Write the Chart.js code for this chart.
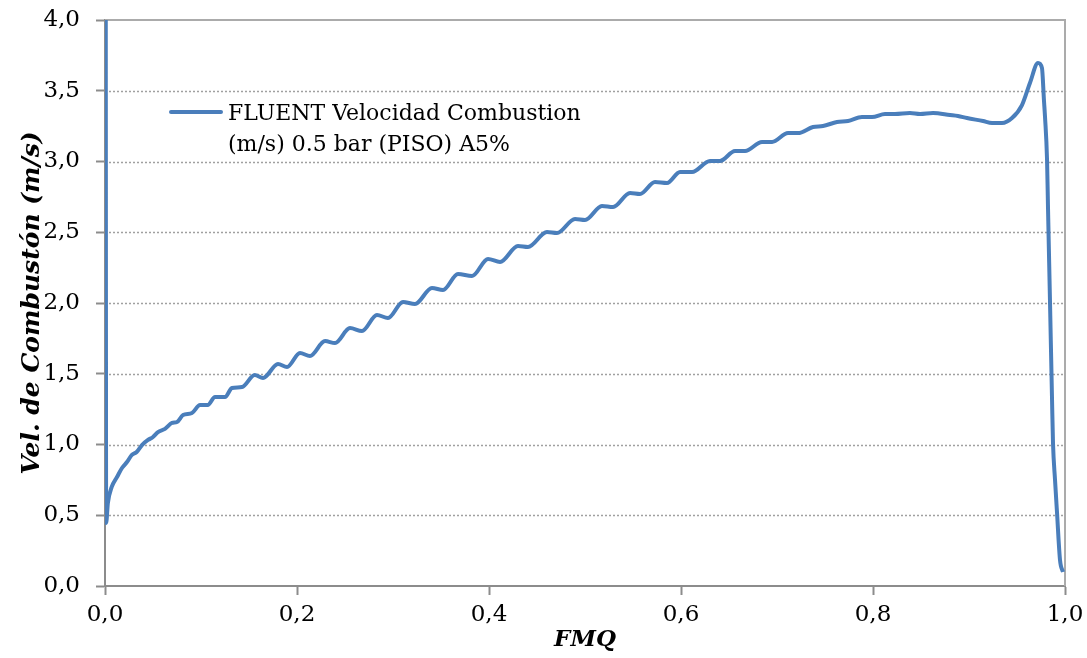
<!DOCTYPE html>
<html>
<head>
<meta charset="utf-8">
<script src="https://cdn.jsdelivr.net/npm/chart.js@4/dist/chart.umd.min.js"></script>
<style>
  html, body { margin: 0; padding: 0; background: #fff; }
  #wrap { width: 1087px; height: 658px; position: relative; }
</style>
</head>
<body>
<div id="wrap"><canvas id="lineChart" width="1087" height="658"></canvas></div>
<script>
// valores
const seriesLabel = ['FLUENT Velocidad Combustion', '(m/s) 0.5 bar (PISO) A5%']
const fmq = [
    0.0008, 0.0012, 0.003, 0.007, 0.0125, 0.0177, 0.0229, 0.028, 0.033, 0.0385,
    0.0448, 0.05, 0.0552, 0.0625, 0.0698, 0.075, 0.0813, 0.0906, 0.099, 0.107,
    0.1146, 0.125, 0.1323, 0.1427, 0.156, 0.1646, 0.1802, 0.1896, 0.2031, 0.2135,
    0.2292, 0.2396, 0.2552, 0.2677, 0.2833, 0.2948, 0.3104, 0.3229, 0.3406, 0.3521,
    0.3677, 0.3823, 0.399, 0.4115, 0.4302, 0.4406, 0.4604, 0.4708, 0.4896, 0.5,
    0.5177, 0.5292, 0.5469, 0.5573, 0.5729, 0.5854, 0.599, 0.6115, 0.6302, 0.6406,
    0.6563, 0.6667, 0.6844, 0.6948, 0.7115, 0.7219, 0.7375, 0.7479, 0.7625, 0.774,
    0.7885, 0.799, 0.8125, 0.8229, 0.8385, 0.849, 0.8625, 0.8802, 0.8885, 0.8979,
    0.9146, 0.924, 0.9344, 0.9448, 0.9552, 0.9635, 0.9719, 0.976, 0.9781, 0.9792,
    0.9813, 0.9823, 0.9844, 0.9865, 0.9875, 0.9896, 0.9917, 0.9948, 0.9979
]
const velocidad = [
    4.0, 0.445, 0.587, 0.70, 0.77, 0.834, 0.876, 0.926, 0.947, 0.996,
    1.032, 1.053, 1.088, 1.11, 1.152, 1.159, 1.208, 1.223, 1.279, 1.279,
    1.336, 1.336, 1.399, 1.406, 1.491, 1.47, 1.569, 1.548, 1.647, 1.625,
    1.731, 1.717, 1.823, 1.802, 1.915, 1.894, 2.007, 1.993, 2.106, 2.092,
    2.205, 2.191, 2.311, 2.29, 2.403, 2.396, 2.502, 2.495, 2.594, 2.587,
    2.686, 2.678, 2.777, 2.770, 2.855, 2.848, 2.926, 2.926, 3.004, 3.004,
    3.074, 3.074, 3.138, 3.138, 3.201, 3.201, 3.244, 3.251, 3.279, 3.286,
    3.314, 3.314, 3.336, 3.336, 3.343, 3.336, 3.343, 3.329, 3.322, 3.307,
    3.286, 3.272, 3.272, 3.307, 3.399, 3.555, 3.696, 3.661, 3.43, 3.314,
    3.011, 2.671, 2.0, 1.314, 1.011, 0.75, 0.516, 0.184, 0.099
]
const xTicks = [0, 0.2, 0.4, 0.6, 0.8, 1.0]
const yTicks = [0, 0.5, 1.0, 1.5, 2.0, 2.5, 3.0, 3.5, 4.0]

const azul = '#4a7ebb'
const gris = '#8c8c8c'
const fuente = "'DejaVu Serif', serif"

const puntos = fmq.map((x, i) => ({ x: x, y: velocidad[i] }))
const coma = v => Number(v).toFixed(1).replace('.', ',')

// rejilla punteada, borde superior/derecho y leyenda
const extras = {
    id: 'extras',
    beforeDatasetsDraw(chart) {
        const { ctx, chartArea: a, scales: { y } } = chart
        ctx.save()
        ctx.strokeStyle = '#a0a0a0'
        ctx.lineWidth = 1.5
        ctx.setLineDash([2, 2])
        yTicks.forEach(v => {
            if (v === 0 || v === 4) return
            const py = Math.round(y.getPixelForValue(v)) + 0.5
            ctx.beginPath()
            ctx.moveTo(a.left, py)
            ctx.lineTo(a.right, py)
            ctx.stroke()
        })
        ctx.setLineDash([])
        ctx.strokeStyle = '#ababab'
        ctx.lineWidth = 2
        ctx.beginPath()
        ctx.moveTo(a.left, a.top)
        ctx.lineTo(a.right, a.top)
        ctx.lineTo(a.right, a.bottom)
        ctx.stroke()
        ctx.restore()
    },
    afterDraw(chart) {
        const { ctx } = chart
        ctx.save()
        ctx.strokeStyle = azul
        ctx.lineWidth = 4
        ctx.lineCap = 'round'
        ctx.beginPath()
        ctx.moveTo(171, 112)
        ctx.lineTo(221, 112)
        ctx.stroke()
        ctx.fillStyle = '#000'
        ctx.font = '22px ' + fuente
        ctx.textBaseline = 'middle'
        ctx.fillText(seriesLabel[0], 228, 114)
        ctx.fillText(seriesLabel[1], 228, 145)
        ctx.restore()
    }
}

const sinRelleno = s => {
    s.paddingTop = 0
    s.paddingBottom = 0
    s.paddingLeft = 0
    s.paddingRight = 0
}

new Chart(document.getElementById('lineChart'), {
    type: 'scatter',
    data: {
        datasets: [{
            label: seriesLabel.join(' '),
            data: puntos,
            showLine: true,
            borderColor: azul,
            backgroundColor: azul,
            borderWidth: 4,
            pointRadius: 0,
            cubicInterpolationMode: 'monotone'
        }]
    },
    options: {
        responsive: false,
        animation: false,
        layout: { padding: { left: 0, right: 22, top: 20, bottom: 0 } },
        plugins: { legend: { display: false }, tooltip: { enabled: false } },
        scales: {
            x: {
                type: 'linear',
                min: 0,
                max: 1,
                afterFit: s => { s.height = 72; sinRelleno(s) },
                afterBuildTicks: s => { s.ticks = xTicks.map(v => ({ value: v })) },
                ticks: { callback: coma, color: '#000', font: { family: fuente, size: 23 }, padding: 6, maxRotation: 0 },
                grid: { drawOnChartArea: false, drawTicks: true, tickLength: 9, tickColor: gris, tickWidth: 2 },
                border: { color: gris, width: 2 },
                title: { display: true, text: 'FMQ', color: '#000', font: { family: fuente, size: 23, weight: 'bold', style: 'italic' }, padding: { top: 0, bottom: 4 } }
            },
            y: {
                min: 0,
                max: 4,
                afterFit: s => { s.width = 105; sinRelleno(s) },
                afterBuildTicks: s => { s.ticks = yTicks.map(v => ({ value: v })) },
                ticks: { callback: coma, color: '#000', font: { family: fuente, size: 23 }, padding: 16 },
                grid: { drawOnChartArea: false, drawTicks: true, tickLength: 9, tickColor: gris, tickWidth: 2 },
                border: { color: gris, width: 2 },
                title: { display: true, text: 'Vel. de Combustón (m/s)', color: '#000', font: { family: fuente, size: 25, weight: 'bold', style: 'italic' }, padding: { top: 17, bottom: 0 } }
            }
        }
    },
    plugins: [extras]
})
</script>
</body>
</html>
